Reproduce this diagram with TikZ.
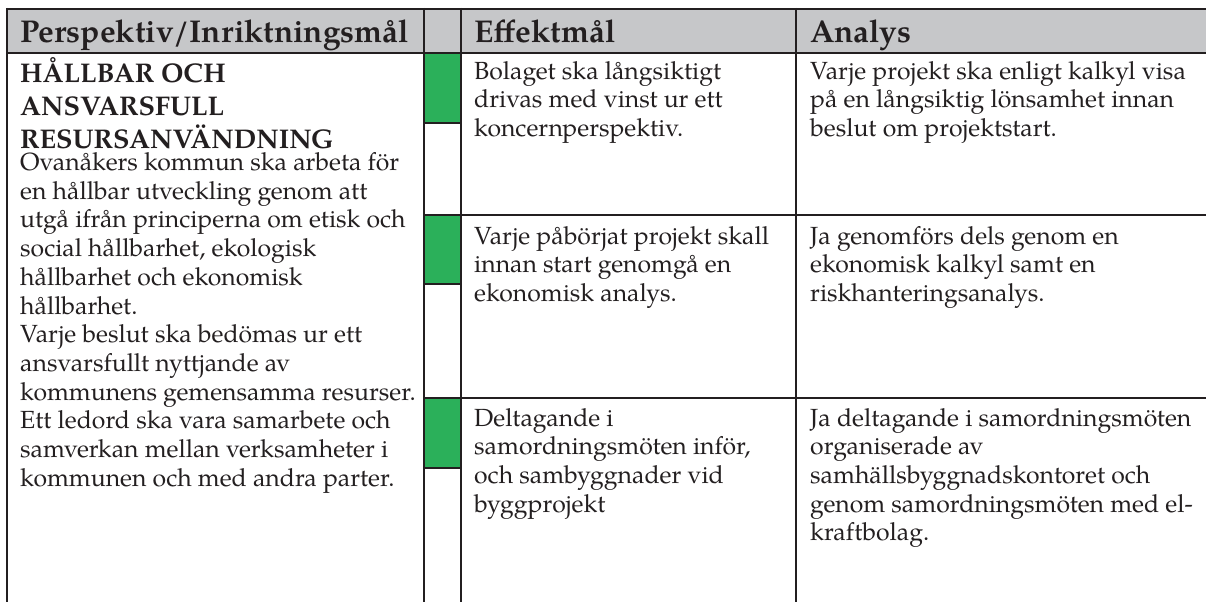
\documentclass[tikz,border=0pt]{standalone}
\usepackage{fontspec}
\setmainfont{TeX Gyre Pagella}
\definecolor{rule}{HTML}{231F20}
\definecolor{hdr}{HTML}{C6C7C9}
\definecolor{grn}{HTML}{2BB05A}
\tikzset{
  rl/.style={draw=rule,line width=2.2pt},
  hd/.style={anchor=base west,inner sep=0pt,font=\fontsize{31.5}{36}\selectfont\bfseries,text=rule},
  bd/.style={anchor=base west,inner sep=0pt,font=\fontsize{24.8}{28.7}\selectfont,text=rule,align=left},
  bb/.style={anchor=base west,inner sep=0pt,font=\fontsize{27}{33}\selectfont\bfseries,text=rule,align=left},
}
\begin{document}
\begin{tikzpicture}[x=1pt,y=-1pt]
\useasboundingbox (0,0) rectangle (1206,602);
\fill[white] (0,0) rectangle (1206,602);
% header fill
\fill[hdr] (7,9) rectangle (1206,53);
% green boxes
\fill[grn] (424,53) rectangle (461,123);
\fill[grn] (424,215) rectangle (461,284);
\fill[grn] (424,398) rectangle (461,468);
% coordinates
\coordinate (tl) at (7,9);
\coordinate (tr) at (1206,9);
\coordinate (hl) at (7,53);
\coordinate (hr) at (1206,53);
% rules
\draw[rl] (tl) -- (tr);
\draw[rl] (hl) -- (hr);
\draw[rl] (424,123) -- (461,123);
\draw[rl] (424,284) -- (461,284);
\draw[rl] (424,468) -- (461,468);
\draw[rl] (424,215) -- (1206,215);
\draw[rl] (424,398) -- (1206,398);
\draw[rl] (7,8) -- (7,602);
\draw[rl] (424,8) -- (424,602);
\draw[rl] (461,8) -- (461,602);
\draw[rl] (796,8) -- (796,602);
% header texts
\node[hd] (h1) at (20,42.5) {Perspektiv/Inriktningsmål};
\node[hd] (h2) at (474,42.5) {Effektmål};
\node[hd] (h3) at (810,42.5) {Analys};
% left column
\node[bb] (l1) at (20,82) {HÅLLBAR OCH};
\node[bb] (l2) at (20,115) {ANSVARSFULL};
\node[bb] (l3) at (20,148) {RESURSANVÄNDNING};
\node[bd] (l4) at (20,486.2) {Ovanåkers kommun ska arbeta för\\
en hållbar utveckling genom att\\
utgå ifrån principerna om etisk och\\
social hållbarhet, ekologisk\\
hållbarhet och ekonomisk\\
hållbarhet.\\
Varje beslut ska bedömas ur ett\\
ansvarsfullt nyttjande av\\
kommunens gemensamma resurser.\\
Ett ledord ska vara samarbete och\\
samverkan mellan verksamheter i\\
kommunen och med andra parter.};
% Effektmal
\node[bd] (e1) at (474,136.4) {Bolaget ska långsiktigt\\drivas med vinst ur ett\\koncernperspektiv.};
\node[bd] (e2) at (474,301.4) {Varje påbörjat projekt skall\\innan start genomgå en\\ekonomisk analys.};
\node[bd] (e3) at (474,512.1) {Deltagande i\\samordningsmöten inför,\\och sambyggnader vid\\byggprojekt};
% Analys
\node[bd] (a1) at (810,136.4) {Varje projekt ska enligt kalkyl visa\\på en långsiktig lönsamhet innan\\beslut om projektstart.};
\node[bd] (a2) at (810,301.4) {Ja genomförs dels genom en\\ekonomisk kalkyl samt en\\riskhanteringsanalys.};
\node[bd] (a3) at (810,540.8) {Ja deltagande i samordningsmöten\\organiserade av\\samhällsbyggnadskontoret och\\genom samordningsmöten med el-\\kraftbolag.};
\end{tikzpicture}
\end{document}
